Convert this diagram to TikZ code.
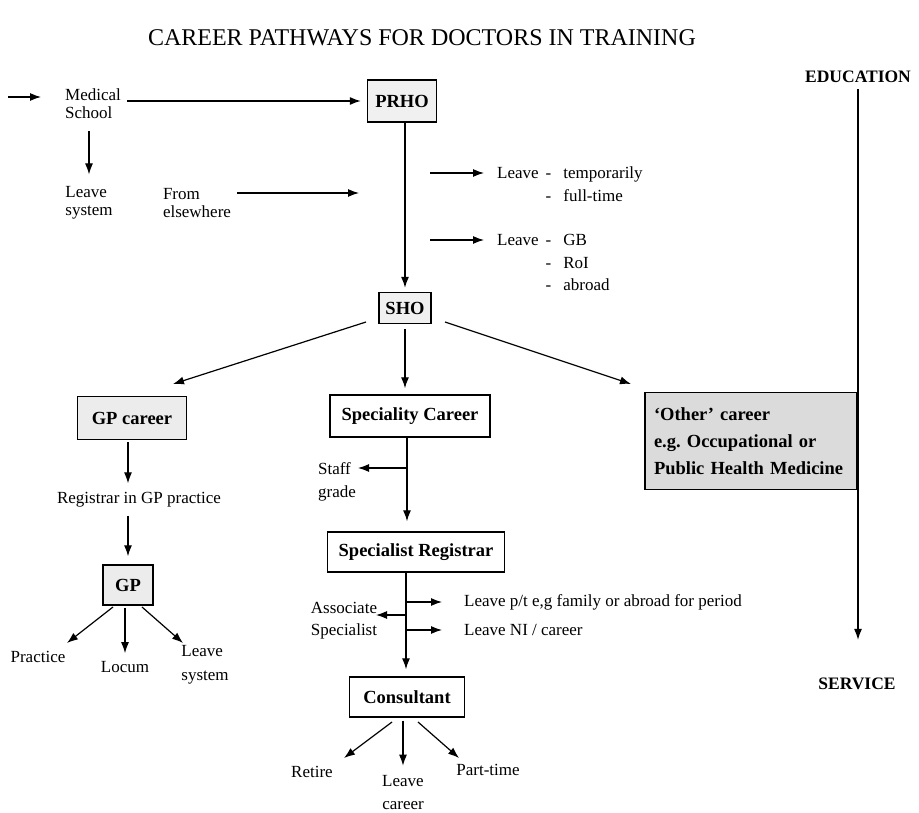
\documentclass[tikz,border=0pt]{standalone}
\usepackage{fontspec}
\setmainfont{Liberation Serif}
\usetikzlibrary{arrows.meta}
\begin{document}
\begin{tikzpicture}[x=1pt,y=-1pt,
 txt/.style={inner sep=0pt, font=\fontsize{17}{19}\selectfont},
 bx/.style={draw, line width=1.4pt, inner sep=0pt, font=\fontsize{18.5}{21}\selectfont\bfseries},
 arr/.style={-{Latex[length=11pt,width=8pt]}, line width=1.2pt},
]
\useasboundingbox[fill=white] (0,0) rectangle (919,813);

% title
\node[txt, font=\fontsize{24}{26}\selectfont] (title) at (422,38) {CAREER PATHWAYS FOR DOCTORS IN TRAINING};

% top left
\node[txt, align=left, font=\fontsize{17}{18}\selectfont] (med) at (93,104) {Medical\\School};
\node[txt, align=left, font=\fontsize{17}{18}\selectfont] (lsys1) at (89,203) {Leave\\system};
\node[txt, align=left, font=\fontsize{17}{18}\selectfont] (from) at (197,203) {From\\elsewhere};
\node[bx, fill=gray!12, minimum width=69, minimum height=42] (prho) at (402,101) {PRHO};
\node[bx, fill=gray!12, minimum width=52, minimum height=31] (sho) at (405,308) {SHO};

\coordinate (in0) at (8,97);
\coordinate (in1) at (41,97);
\draw[arr] (in0) -- (in1);
\draw[arr, shorten <=6pt, shorten >=6pt] (med.east |- prho) -- (prho.west);
\draw[arr, shorten <=12pt, shorten >=12pt] (med.south -| lsys1.north) -- (lsys1.north);
\coordinate (fe1) at (237,193);
\coordinate (fe2) at (359,193);
\draw[arr] (fe1) -- (fe2);
\draw[arr, shorten >=4pt] (prho.south -| sho.north) -- (sho.north);

% leave lists
\node[txt, anchor=base west, font=\fontsize{17}{23}\selectfont] (lv1) at (497,179)
 {\begin{tabular}[t]{@{}l@{\hspace{7pt}}l@{\hspace{12pt}}l@{}}Leave & - & temporarily\\ & - & full-time\end{tabular}};
\node[txt, anchor=base west, font=\fontsize{17}{22.5}\selectfont] (lv2) at (497,246)
 {\begin{tabular}[t]{@{}l@{\hspace{7pt}}l@{\hspace{12pt}}l@{}}Leave & - & GB\\ & - & RoI\\ & - & abroad\end{tabular}};
\coordinate (a1s) at (430,173);
\coordinate (a1e) at (484,173);
\coordinate (a2s) at (430,240);
\coordinate (a2e) at (484,240);
\draw[arr] (a1s) -- (a1e);
\draw[arr] (a2s) -- (a2e);

% SHO branches
\node[bx, fill=gray!15, minimum width=109, minimum height=43] (gpc) at (132,418) {GP career};
\node[bx, minimum width=160, minimum height=42] (spc) at (410,416) {Speciality Career};
\node[bx, fill=gray!28, minimum width=212, minimum height=97, align=left, text width=194,
 font=\fontsize{18.5}{27}\selectfont\bfseries\frenchspacing] (oth) at (751,441) {`Other' career\\e.g. Occupational or\\Public Health Medicine};
\coordinate (d1s) at (366,322);
\coordinate (d1e) at (173,384);
\coordinate (d3s) at (445,322);
\coordinate (d3e) at (631,384);
\draw[arr] (d1s) -- (d1e);
\draw[arr, shorten <=5pt, shorten >=6pt] (sho.south) -- (spc.north -| sho.south);
\draw[arr] (d3s) -- (d3e);

% GP column
\node[txt] (reg) at (139,500) {Registrar in GP practice};
\node[bx, fill=gray!15, minimum width=50, minimum height=40] (gp) at (128,585) {GP};
\node[txt] (prac) at (38,657) {Practice};
\node[txt] (locum) at (125,667) {Locum};
\node[txt, align=left, font=\fontsize{17}{24}\selectfont] (lsys2) at (205,665) {Leave\\system};
\draw[arr, shorten <=2pt, shorten >=9pt] (gpc.south -| gp.north) -- (reg.north -| gp.north);
\draw[arr, shorten <=8pt, shorten >=8pt] (reg.south -| gp.north) -- (gp.north);
\coordinate (g1s) at (113,607);
\coordinate (g1e) at (67,643);
\coordinate (g3s) at (142,607);
\coordinate (g3e) at (183,643);
\draw[arr] (g1s) -- (g1e);
\draw[arr, shorten <=2pt, shorten >=8pt] (gp.south -| locum.north) -- (locum.north);
\draw[arr] (g3s) -- (g3e);

% speciality column
\node[txt, align=left, font=\fontsize{17}{23}\selectfont] (staff) at (337,482) {Staff\\grade};
\node[bx, minimum width=177, minimum height=40] (sreg) at (416,552) {Specialist Registrar};
\node[txt, align=left, font=\fontsize{17}{22}\selectfont] (assoc) at (344,621) {Associate\\Specialist};
\node[txt, anchor=west] (lpt) at (464,602) {Leave p/t e,g family or abroad for period};
\node[txt, anchor=west] (lni) at (464,630) {Leave NI / career};
\node[bx, minimum width=115, minimum height=40] (cons) at (407,697) {Consultant};
\node[txt] (retire) at (312,772) {Retire};
\node[txt, align=center, font=\fontsize{17}{23}\selectfont] (lcar) at (403,793) {Leave\\career};
\node[txt] (pt) at (488,770) {Part-time};

\coordinate (sp1) at (407,468);
\coordinate (sp2) at (358,468);
\draw[arr, shorten >=10pt] (spc.south -| sp1) -- (sreg.north -| sp1);
\draw[arr] (sp1) -- (sp2);

\coordinate (r1) at (406,602);
\coordinate (r1e) at (442,602);
\coordinate (r2) at (406,630);
\coordinate (r2e) at (442,630);
\coordinate (r3) at (406,615);
\coordinate (r3e) at (376,615);
\draw[arr, shorten >=7pt] (sreg.south -| r1) -- (cons.north -| r1);
\draw[arr] (r1) -- (r1e);
\draw[arr] (r2) -- (r2e);
\draw[arr] (r3) -- (r3e);

\coordinate (c1s) at (392,722);
\coordinate (c1e) at (344,758);
\coordinate (c3s) at (418,722);
\coordinate (c3e) at (459,758);
\draw[arr] (c1s) -- (c1e);
\draw[arr, shorten <=3pt, shorten >=10pt] (cons.south -| lcar.north) -- (lcar.north);
\draw[arr] (c3s) -- (c3e);

% education / service axis
\node[txt, font=\fontsize{17.5}{20}\selectfont\bfseries] (edu) at (858,77) {EDUCATION};
\node[txt, font=\fontsize{17.5}{20}\selectfont\bfseries] (serv) at (857,684) {SERVICE};
\draw[arr, shorten <=6pt, shorten >=38pt] (edu.south) -- (edu.south |- serv.north);
\end{tikzpicture}
\end{document}
